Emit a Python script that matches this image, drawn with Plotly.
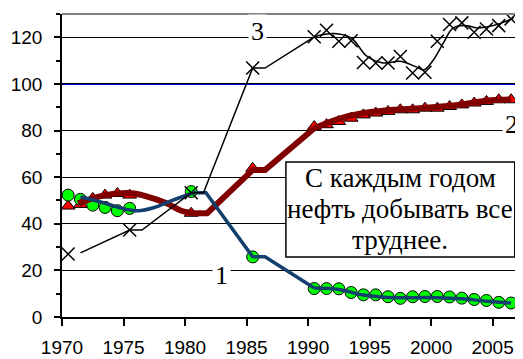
import plotly.graph_objects as go

# marker data
years_1 = [1970, 1971, 1972, 1973, 1974, 1975, 1980, 1985, 1990, 1991, 1992, 1993, 1994,
           1995, 1996, 1997, 1998, 1999, 2000, 2001, 2002, 2003, 2004, 2005, 2006]
circles_1 = [52.3, 50.5, 48.0, 47.0, 45.6, 46.6, 53.8, 25.8, 12.2, 12.2, 12.1, 10.5, 9.5,
             9.5, 8.7, 8.0, 8.7, 8.8, 8.8, 8.6, 8.1, 7.5, 7.1, 6.3, 6.0]

years_2 = years_1
triangles_2 = [47.6, 48.3, 50.9, 52.3, 53.0, 52.3, 44.5, 63.8, 81.7, 82.5, 83.9, 85.3, 86.7,
               87.5, 88.2, 88.9, 88.9, 89.6, 89.6, 90.3, 91.0, 91.8, 92.5, 93.2, 93.2]

years_3 = [1970, 1975, 1980, 1985, 1990, 1991, 1992, 1993, 1994, 1995, 1996, 1997, 1998,
           1999, 2000, 2001, 2002, 2003, 2004, 2005, 2006]
crosses_3 = [27.0, 37.3, 53.3, 106.8, 120.2, 123.0, 118.3, 118.5, 109.2, 109.0, 109.0, 111.8,
             104.7, 105.0, 118.3, 125.5, 126.2, 122.2, 123.6, 125.0, 127.9]

# the drawn (smoothed) lines, read separately
blue_a_x = [1971, 1973, 1974.4, 1975.7, 1977, 1978.4, 1980.2]
blue_a_y = [51.6, 48.8, 46.6, 45.6, 47.0, 49.9, 53.3]
blue_b_x = [1980.2, 1981.2, 1985, 1986, 1990]
blue_b_y = [53.3, 53.3, 25.8, 25.8, 12.4]
blue_c_x = [1990, 1992, 1994, 1996, 1998, 2000, 2002, 2004, 2006]
blue_c_y = [12.4, 11.8, 9.4, 8.4, 8.3, 8.3, 7.8, 6.8, 6.0]

red_a_x = [1970.8, 1972, 1973, 1975.2, 1976.3, 1978, 1979.2, 1980.3]
red_a_y = [48.8, 50.9, 52.3, 53.1, 51.9, 48.8, 45.6, 44.5]
red_b_x = [1980.3, 1981.3, 1985, 1986, 1990]
red_b_y = [44.5, 44.5, 63.1, 63.1, 81.0]
red_c_x = [1990, 1992, 1994, 1996, 1998, 2000, 2002, 2004, 2006]
red_c_y = [81.0, 85.0, 87.5, 88.7, 89.4, 90.2, 91.2, 92.8, 93.3]

black_a_x = [1971, 1975, 1976, 1980, 1981, 1985, 1986, 1990]
black_a_y = [27.5, 37.3, 37.3, 53.3, 53.3, 106.8, 106.8, 120.2]
black_b_x = [1990, 1991.6, 1993, 1994.3, 1995.6, 1997, 1998.3, 1998.9, 1999.7, 2000.5,
             2001.3, 2002.4, 2003.2, 2004.3, 2005.4, 2006.2]
black_b_y = [120.2, 121.6, 119.7, 111.8, 109.0, 109.7, 107.3, 106.0, 110.4, 117.6,
             124.0, 125.0, 124.0, 124.7, 126.5, 128.3]

tick_years = [1970, 1975, 1980, 1985, 1990, 1995, 2000, 2005]

box_lines = ["С каждым годом", "нефть добывать все", "труднее."]

BLUE = "#123f6e"
DARKRED = "#800000"
SERIF = "Liberation Serif"

fig = go.Figure()

fig.add_trace(go.Scatter(x=years_2, y=triangles_2, mode="markers",
                         marker=dict(symbol="triangle-up", size=12, color="#ff0000",
                                     line=dict(color="black", width=1))))
fig.add_trace(go.Scatter(x=years_1, y=circles_1, mode="markers",
                         marker=dict(symbol="circle", size=12, color="#00ff00",
                                     line=dict(color="black", width=1))))
fig.add_trace(go.Scatter(x=years_3, y=crosses_3, mode="markers",
                         marker=dict(symbol="x-thin", size=13,
                                     line=dict(color="black", width=1.5))))

for xs, ys, shape in [(red_a_x, red_a_y, "spline"), (red_b_x, red_b_y, "linear"),
                      (red_c_x, red_c_y, "spline")]:
    fig.add_trace(go.Scatter(x=xs, y=ys, mode="lines",
                             line=dict(color=DARKRED, width=6, shape=shape)))
for xs, ys, shape in [(blue_a_x, blue_a_y, "spline"), (blue_b_x, blue_b_y, "linear"),
                      (blue_c_x, blue_c_y, "spline")]:
    fig.add_trace(go.Scatter(x=xs, y=ys, mode="lines",
                             line=dict(color=BLUE, width=3.5, shape=shape)))
for xs, ys, shape in [(black_a_x, black_a_y, "linear"), (black_b_x, black_b_y, "spline")]:
    fig.add_trace(go.Scatter(x=xs, y=ys, mode="lines",
                             line=dict(color="black", width=1.5, shape=shape)))

# page body has an 8px margin, so the figure is 8px smaller each way
fig.update_layout(
    width=515, height=351,
    margin=dict(l=54, r=7, t=6, b=42),
    paper_bgcolor="white", plot_bgcolor="white",
    showlegend=False,
    font=dict(family="Liberation Sans", size=19, color="black"),
    xaxis=dict(range=[1969.5, 2006.4], tickvals=[y - 0.5 for y in tick_years],
               ticktext=[str(y) for y in tick_years], ticks="outside", ticklen=7,
               tickwidth=1.5, tickcolor="black", showline=True, linecolor="black",
               linewidth=1.5, showgrid=False, zeroline=False, ticklabelstandoff=5,
               automargin=False),
    yaxis=dict(range=[0, 130], tick0=0, dtick=20, ticks="outside", ticklen=6,
               tickwidth=1.5, tickcolor="black", showline=True, linecolor="black",
               linewidth=1.5, showgrid=True, gridcolor="black", gridwidth=1.3,
               zeroline=False, ticklabelstandoff=8, automargin=False,
               minor=dict(dtick=10, ticks="outside", ticklen=4, tickcolor="black",
                          tickwidth=1.5, showgrid=False)),
)

# blue reference line at 100 and grey frame
fig.add_shape(type="line", xref="paper", x0=0, x1=1, yref="y", y0=100, y1=100,
              line=dict(color="#0000ee", width=2), layer="below")
fig.add_shape(type="line", xref="paper", x0=0, x1=1, yref="paper", y0=1, y1=1,
              line=dict(color="#808080", width=2))
fig.add_shape(type="line", xref="paper", x0=1, x1=1, yref="paper", y0=0, y1=1,
              line=dict(color="#808080", width=2))

for txt, ax, ay in [("1", 1982.5, 17.7), ("2", 2006.0, 82.5), ("3", 1985.4, 122.5)]:
    fig.add_annotation(x=ax, y=ay, text=txt, showarrow=False, bgcolor="white",
                       font=dict(family=SERIF, size=26, color="black"), borderpad=2)

# text box
fig.add_shape(type="rect", x0=1987.7, x1=2006.3, y0=25.7, y1=66.5,
              fillcolor="white", line=dict(color="black", width=1.5))
for line_txt, ly in zip(box_lines, [59.5, 46.2, 32.9]):
    fig.add_annotation(x=1997.0, y=ly, text=line_txt, showarrow=False,
                       font=dict(family=SERIF, size=27, color="black"))

fig.write_html("out.html")
